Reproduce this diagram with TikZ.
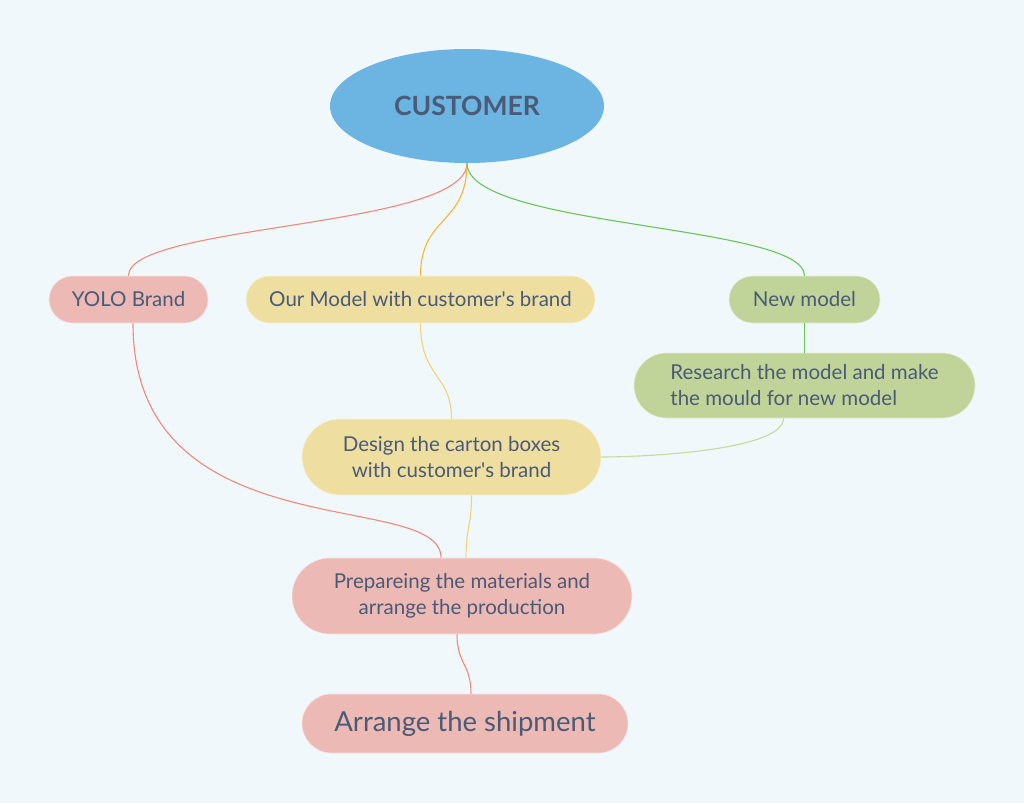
\documentclass[tikz,border=0pt]{standalone}
\usepackage{fontspec}
\setmainfont{Lato}
\usetikzlibrary{shapes.geometric}
\definecolor{bg}{HTML}{F0F8FB}
\definecolor{cblue}{HTML}{6CB4E1}
\definecolor{cpink}{HTML}{ECB9B4}
\definecolor{cyellow}{HTML}{EEDEA0}
\definecolor{cgreen}{HTML}{C0D398}
\definecolor{lred}{HTML}{F0897C}
\definecolor{lorange}{HTML}{F5B835}
\definecolor{lgreen}{HTML}{6DC45A}
\definecolor{lorange2}{HTML}{F5D27A}
\definecolor{lgreen2}{HTML}{C5DA9C}
\definecolor{ctext}{HTML}{4A5A77}
\tikzset{
  pill/.style={rectangle, draw=white!60!#1, line width=0.6pt, fill=#1, text=ctext, inner sep=0pt, font=\fontsize{20.5}{26}\selectfont, align=center},
  link/.style={line width=1.1pt},
}
\begin{document}
\begin{tikzpicture}[x=1pt,y=-1pt]
\fill[bg] (0,0) rectangle (1024,803);
\useasboundingbox (0,0) rectangle (1024,803);

\node[ellipse, fill=cblue, minimum width=274pt, minimum height=114pt, inner sep=0pt, text=ctext, font=\fontsize{26.5}{30}\selectfont\bfseries] (cust) at (467,106) {CUSTOMER};

\node[pill=cpink, minimum width=159pt, minimum height=47pt, rounded corners=23.5pt] (yolo) at (128.5,299.5) {YOLO Brand};
\node[pill=cyellow, minimum width=349pt, minimum height=47pt, rounded corners=23.5pt] (our) at (420.5,299.5) {Our Model with customer\textquotesingle s brand};
\node[pill=cgreen, minimum width=151pt, minimum height=47pt, rounded corners=23.5pt] (new) at (804.5,299.5) {New model};
\node[pill=cgreen, minimum width=341pt, minimum height=65pt, rounded corners=32.5pt, align=left] (res) at (804.5,385.5) {Research the model and make\\the mould for new model};
\node[pill=cyellow, minimum width=299pt, minimum height=76pt, rounded corners=38pt] (des) at (451.5,457) {Design the carton boxes\\with customer\textquotesingle s brand};
\node[pill=cpink, minimum width=340pt, minimum height=76pt, rounded corners=38pt] (prep) at (462,596) {Prepareing the materials and\\arrange the production};
\node[pill=cpink, minimum width=326pt, minimum height=59pt, rounded corners=29.5pt, font=\fontsize{27.5}{32}\selectfont] (ship) at (465,723.5) {Arrange the shipment};

\draw[link, lred] (cust.south) .. controls +(0,65) and +(0,-52) .. (yolo.north);
\draw[link, lorange] (cust.south) .. controls +(0,62) and +(0,-60) .. (our.north);
\draw[link, lgreen] (cust.south) .. controls +(0,65) and +(0,-52) .. (new.north);
\draw[link, lgreen] (new.south) -- (res.north);
\draw[link, lorange2] (our.south) .. controls +(0,55) and +(0,-45) .. (des.north);
\draw[link, lgreen2] ([xshift=-21pt]res.south) .. controls +(0,32) and +(45,0) .. (des.east);
\draw[link, lorange2] ([xshift=20pt]des.south) .. controls +(0,30) and +(0,-30) .. ([xshift=4pt]prep.north);
\draw[link, lred] ([xshift=4.5pt]yolo.south) .. controls +(0,230) and +(0,-70) .. ([xshift=-21pt]prep.north);
\draw[link, lred] ([xshift=-5pt]prep.south) .. controls +(0,30) and +(0,-30) .. ([xshift=6pt]ship.north);
\end{tikzpicture}
\end{document}
